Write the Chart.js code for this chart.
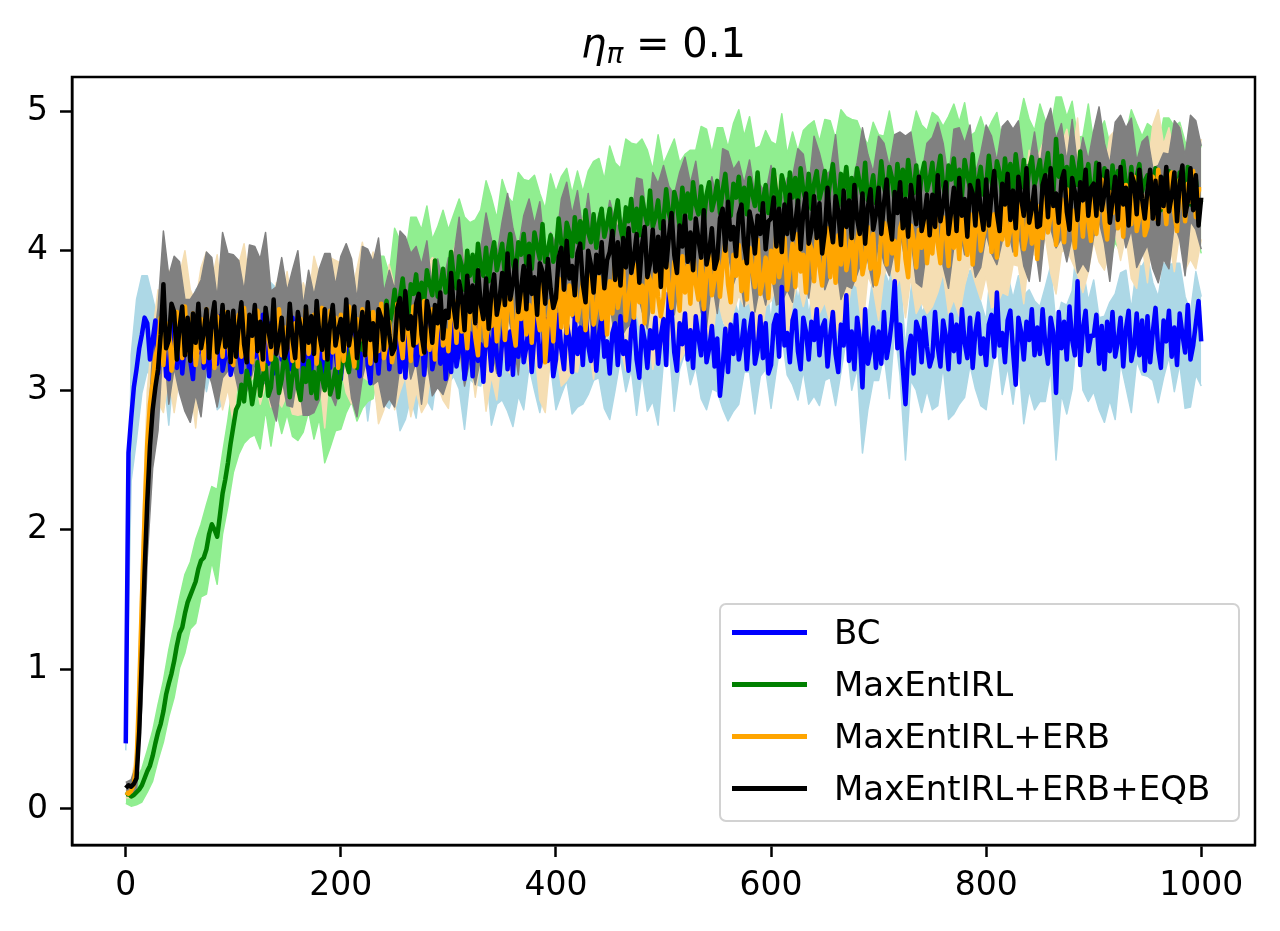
<!DOCTYPE html>
<html lang="en">
<head>
  <meta charset="UTF-8" />
  <title>eta_pi = 0.1</title>
  <script src="https://cdn.jsdelivr.net/npm/chart.js"></script>
  <style>
    * { box-sizing: border-box; margin: 0; padding: 0; }
    body { background: #fff; width: 1280px; height: 931px; overflow: hidden; position: relative; font-family: "DejaVu Sans", sans-serif; color: #000; }
    #chart { position: absolute; left: 0; top: 0; }
    .title { position: absolute; top: 23px; left: 72px; width: 1183px; text-align: center; font-size: 40px; line-height: 40px; white-space: nowrap; }
    .title sub { font-size: 28px; line-height: 0; vertical-align: -0.22em; }
    .legend { position: absolute; left: 719px; top: 603px; width: 521px; height: 219px; border: 2px solid #d2d2d2; border-radius: 7px; background: rgba(255,255,255,0.8); }
    .legend-item { position: absolute; left: 0; width: 100%; height: 52px; }
    .legend-item .swatch { position: absolute; left: 11px; top: 24px; width: 75px; height: 5px; }
    .legend-item .label { position: absolute; left: 113px; top: 0; font-size: 34px; line-height: 52px; white-space: nowrap; }
  </style>
</head>
<body>

  <canvas id="chart" width="1280" height="931"></canvas>

  <div class="title"><i>η</i><sub><i>π</i></sub> = 0.1</div>

  <!-- Legend -->
  <div class="legend">
    <div class="legend-item" style="top:1px"><span class="swatch" style="background:#0000ff"></span><span class="label">BC</span></div>
    <div class="legend-item" style="top:53px"><span class="swatch" style="background:#008000"></span><span class="label">MaxEntIRL</span></div>
    <div class="legend-item" style="top:105px"><span class="swatch" style="background:#ffa500"></span><span class="label">MaxEntIRL+ERB</span></div>
    <div class="legend-item" style="top:157px"><span class="swatch" style="background:#000000"></span><span class="label">MaxEntIRL+ERB+EQB</span></div>
  </div>

  <script>
    // means: one value every 2.5 iterations; std bands: one value every 5 (x = 0 .. 1000)
    const MEAN_STEP = 2.5;
    const BAND_STEP = 5;
    const xTicks = [0, 200, 400, 600, 800, 1000];
    const yTicks = [0, 1, 2, 3, 4, 5];

    // BC
    const bcMean = [
      0.47, 2.55, 2.80, 3.02, 3.15, 3.30, 3.40, 3.52, 3.48, 3.22, 3.36, 3.50, 3.12, 3.48, 3.42, 3.10, 3.08, 3.52, 3.46, 3.16,
      3.45, 3.12, 3.34, 3.51, 3.21, 3.08, 3.42, 3.27, 3.49, 3.16, 3.37, 3.10, 3.47, 3.32, 3.19, 3.53, 3.14, 3.24, 3.40, 3.11,
      3.20, 3.52, 3.27, 3.13, 3.46, 3.35, 3.11, 3.50, 3.24, 3.43, 3.16, 3.54, 3.30, 3.19, 3.48, 3.12, 3.38, 3.51, 3.22, 3.33,
      3.38, 3.15, 3.52, 3.19, 3.31, 3.47, 3.10, 3.26, 3.43, 3.12, 3.50, 3.23, 3.35, 3.08, 3.45, 3.39, 3.16, 3.48, 3.27, 3.13,
      3.08, 3.37, 3.44, 3.14, 3.49, 3.22, 3.31, 3.10, 3.40, 3.47, 3.18, 3.05, 3.42, 3.32, 3.12, 3.39, 3.26, 3.48, 3.15, 3.35,
      3.33, 3.48, 3.13, 3.40, 3.09, 3.43, 3.22, 3.50, 3.18, 3.29, 3.46, 3.11, 3.38, 3.51, 3.15, 3.25, 3.49, 3.19, 3.44, 3.08,
      3.36, 3.13, 3.50, 3.17, 3.29, 3.45, 3.08, 3.24, 3.41, 3.10, 3.48, 3.21, 3.33, 3.06, 3.43, 3.37, 3.14, 3.46, 3.25, 3.11,
      3.35, 3.50, 3.15, 3.42, 3.11, 3.45, 3.24, 3.52, 3.20, 3.31, 3.48, 3.13, 3.40, 3.53, 3.17, 3.27, 3.51, 3.21, 3.46, 3.10,
      3.22, 3.54, 3.29, 3.15, 3.48, 3.37, 3.13, 3.52, 3.26, 3.45, 3.18, 3.56, 3.32, 3.21, 3.50, 3.14, 3.40, 3.53, 3.24, 3.35,
      3.12, 3.41, 3.48, 3.18, 3.53, 3.26, 3.35, 3.14, 3.44, 3.51, 3.22, 3.09, 3.46, 3.36, 3.16, 3.43, 3.30, 3.52, 3.19, 3.39,
      3.51, 3.18, 3.70, 3.57, 3.27, 3.14, 3.48, 3.33, 3.55, 3.22, 3.43, 3.16, 3.53, 3.38, 3.25, 3.59, 3.20, 3.30, 3.46, 3.17,
      3.37, 2.96, 3.17, 3.44, 3.13, 3.47, 3.26, 3.54, 3.22, 3.33, 3.50, 3.15, 3.42, 3.55, 3.19, 3.29, 3.53, 3.23, 3.48, 3.12,
      3.18, 3.47, 3.54, 3.24, 3.74, 3.32, 3.41, 3.20, 3.50, 3.57, 3.28, 3.15, 3.52, 3.42, 3.22, 3.49, 3.36, 3.58, 3.25, 3.45,
      3.50, 3.17, 3.39, 3.56, 3.26, 3.13, 3.47, 3.32, 3.68, 3.21, 3.42, 3.15, 3.52, 3.37, 3.02, 3.58, 3.19, 3.29, 3.45, 3.16,
      3.42, 3.19, 3.56, 3.23, 3.35, 3.51, 3.78, 3.30, 3.47, 3.16, 2.90, 3.27, 3.39, 3.12, 3.49, 3.43, 3.20, 3.52, 3.31, 3.17,
      3.24, 3.56, 3.31, 3.17, 3.50, 3.39, 3.15, 3.54, 3.28, 3.47, 3.20, 3.58, 3.34, 3.23, 3.52, 3.16, 3.42, 3.55, 3.26, 3.37,
      3.18, 3.47, 3.54, 3.24, 3.70, 3.32, 3.41, 3.20, 3.50, 3.57, 3.28, 3.04, 3.52, 3.42, 3.22, 3.49, 3.36, 3.58, 3.25, 3.45,
      3.26, 3.58, 3.33, 3.19, 3.52, 3.41, 2.98, 3.56, 3.30, 3.49, 3.22, 3.60, 3.36, 3.25, 3.78, 3.18, 3.44, 3.57, 3.28, 3.39,
      3.39, 3.54, 3.19, 3.46, 3.15, 3.49, 3.28, 3.56, 3.24, 3.35, 3.52, 3.17, 3.44, 3.57, 3.21, 3.31, 3.55, 3.25, 3.50, 3.14,
      3.53, 3.20, 3.42, 3.59, 3.29, 3.16, 3.50, 3.35, 3.57, 3.24, 3.45, 3.18, 3.55, 3.40, 3.27, 3.61, 3.22, 3.32, 3.48, 3.64,
      3.35
    ];
    const bcStd = [
      0.05, 0.45, 0.50, 0.42, 0.34, 0.30, 0.38, 0.28, 0.33, 0.26,
      0.34, 0.25, 0.36, 0.30, 0.27, 0.38, 0.29, 0.33, 0.24, 0.35,
      0.30, 0.40, 0.27, 0.34, 0.31, 0.25, 0.37, 0.29, 0.35, 0.28,
      0.33, 0.26, 0.39, 0.30, 0.28, 0.36, 0.32, 0.27, 0.41, 0.30,
      0.34, 0.29, 0.38, 0.31, 0.26, 0.40, 0.33, 0.30, 0.36, 0.28,
      0.35, 0.42, 0.30, 0.27, 0.38, 0.32, 0.45, 0.29, 0.34, 0.37,
      0.31, 0.40, 0.28, 0.36, 0.33, 0.44, 0.30, 0.27, 0.39, 0.35,
      0.42, 0.30, 0.37, 0.28, 0.34, 0.31, 0.40, 0.33, 0.46, 0.29,
      0.36, 0.32, 0.41, 0.30, 0.38, 0.28, 0.35, 0.43, 0.31, 0.37,
      0.33, 0.48, 0.30, 0.36, 0.29, 0.40, 0.34, 0.31, 0.38, 0.44,
      0.30, 0.35, 0.42, 0.33, 0.28, 0.39, 0.36, 0.31, 0.34, 0.45,
      0.38, 0.30, 0.35, 0.41, 0.32, 0.37, 0.29, 0.36, 0.43, 0.33,
      0.31, 0.39, 0.34, 0.30, 0.46, 0.35, 0.38, 0.32, 0.40, 0.36,
      0.43, 0.30, 0.37, 0.34, 0.31, 0.42, 0.36, 0.47, 0.33, 0.38,
      0.35, 0.30, 0.41, 0.34, 0.37, 0.40, 0.32, 0.49, 0.36, 0.31,
      0.38, 0.42, 0.33, 0.36, 0.45, 0.30, 0.39, 0.34, 0.41, 0.37,
      0.32, 0.40, 0.35, 0.44, 0.33, 0.38, 0.30, 0.46, 0.36, 0.39,
      0.34, 0.41, 0.37, 0.48, 0.33, 0.39, 0.35, 0.31, 0.44, 0.36,
      0.40, 0.33, 0.38, 0.35, 0.45, 0.32, 0.42, 0.37, 0.34, 0.39,
      0.43, 0.35, 0.38, 0.41, 0.33, 0.46, 0.36, 0.40, 0.34, 0.37,
      0.32
    ];

    // MaxEntIRL
    const irlMean = [
      0.10, 0.11, 0.09, 0.10, 0.12, 0.14, 0.17, 0.22, 0.27, 0.31, 0.38, 0.47, 0.55, 0.61, 0.70, 0.82, 0.90, 0.97, 1.06, 1.17,
      1.26, 1.30, 1.40, 1.48, 1.53, 1.58, 1.63, 1.72, 1.78, 1.80, 1.86, 1.97, 2.04, 2.00, 1.95, 2.10, 2.26, 2.36, 2.48, 2.62,
      2.74, 2.86, 2.90, 3.04, 2.92, 3.14, 3.06, 2.90, 3.02, 3.20, 2.96, 3.10, 3.18, 2.96, 3.02, 3.24, 3.22, 2.98, 3.08, 3.26,
      3.18, 2.95, 3.11, 3.23, 3.02, 2.93, 3.16, 3.06, 3.21, 2.98, 3.13, 2.94, 3.20, 3.09, 3.00, 3.24, 2.97, 3.04, 3.15, 2.95,
      3.12, 3.36, 3.20, 3.13, 3.37, 3.31, 3.16, 3.45, 3.29, 3.45, 3.27, 3.55, 3.41, 3.35, 3.57, 3.34, 3.53, 3.64, 3.46, 3.56,
      3.72, 3.50, 3.67, 3.80, 3.60, 3.52, 3.76, 3.69, 3.83, 3.61, 3.77, 3.64, 3.86, 3.76, 3.68, 3.93, 3.67, 3.75, 3.87, 3.70,
      3.76, 3.99, 3.81, 3.73, 3.96, 3.89, 3.72, 4.00, 3.82, 3.97, 3.78, 4.05, 3.89, 3.82, 4.02, 3.78, 3.96, 4.06, 3.86, 3.95,
      4.05, 3.83, 3.99, 4.12, 3.91, 3.83, 4.06, 3.97, 4.12, 3.90, 4.05, 3.87, 4.13, 4.03, 3.94, 4.19, 3.92, 4.00, 4.11, 3.92,
      4.00, 4.23, 4.05, 3.97, 4.20, 4.13, 3.96, 4.24, 4.06, 4.21, 4.02, 4.29, 4.13, 4.06, 4.26, 4.02, 4.20, 4.30, 4.10, 4.19,
      4.30, 4.07, 4.24, 4.36, 4.16, 4.07, 4.31, 4.21, 4.37, 4.14, 4.30, 4.11, 4.38, 4.27, 4.19, 4.43, 4.17, 4.24, 4.36, 4.16,
      4.22, 4.44, 4.27, 4.18, 4.42, 4.34, 4.17, 4.45, 4.27, 4.41, 4.23, 4.49, 4.33, 4.26, 4.46, 4.21, 4.40, 4.49, 4.29, 4.37,
      4.50, 4.27, 4.43, 4.55, 4.34, 4.25, 4.48, 4.38, 4.53, 4.30, 4.45, 4.26, 4.52, 4.41, 4.32, 4.56, 4.29, 4.36, 4.47, 4.27,
      4.36, 4.58, 4.40, 4.31, 4.54, 4.46, 4.29, 4.56, 4.38, 4.52, 4.33, 4.59, 4.43, 4.35, 4.55, 4.30, 4.48, 4.57, 4.37, 4.45,
      4.57, 4.34, 4.50, 4.62, 4.41, 4.32, 4.55, 4.45, 4.60, 4.37, 4.52, 4.33, 4.59, 4.48, 4.39, 4.63, 4.36, 4.43, 4.54, 4.34,
      4.42, 4.64, 4.46, 4.37, 4.60, 4.52, 4.35, 4.62, 4.44, 4.58, 4.39, 4.65, 4.49, 4.41, 4.61, 4.36, 4.54, 4.63, 4.43, 4.51,
      4.63, 4.40, 4.56, 4.68, 4.47, 4.38, 4.61, 4.51, 4.66, 4.43, 4.58, 4.39, 4.65, 4.54, 4.45, 4.69, 4.42, 4.49, 4.60, 4.40,
      4.46, 4.68, 4.50, 4.41, 4.64, 4.56, 4.39, 4.66, 4.48, 4.62, 4.43, 4.69, 4.53, 4.45, 4.65, 4.40, 4.58, 4.67, 4.47, 4.55,
      4.65, 4.42, 4.58, 4.70, 4.49, 4.40, 4.80, 4.53, 4.68, 4.45, 4.60, 4.41, 4.67, 4.56, 4.47, 4.71, 4.44, 4.51, 4.62, 4.42,
      4.41, 4.63, 4.45, 4.36, 4.59, 4.51, 4.34, 4.61, 4.43, 4.57, 4.38, 4.64, 4.48, 4.40, 4.60, 4.35, 4.53, 4.62, 4.42, 4.50,
      4.54, 4.31, 4.47, 4.59, 4.38, 4.29, 4.52, 4.42, 4.57, 4.34, 4.49, 4.30, 4.56, 4.45, 4.36, 4.60, 4.33, 4.40, 4.51, 4.31,
      4.36
    ];
    const irlStd = [
      0.06, 0.07, 0.09, 0.12, 0.15, 0.18, 0.20, 0.22, 0.24, 0.26,
      0.25, 0.28, 0.24, 0.30, 0.26, 0.32, 0.27, 0.34, 0.29, 0.31,
      0.33, 0.36, 0.30, 0.40, 0.34, 0.38, 0.32, 0.42, 0.36, 0.39,
      0.35, 0.44, 0.38, 0.46, 0.36, 0.48, 0.40, 0.52, 0.38, 0.44,
      0.40, 0.36, 0.45, 0.38, 0.42, 0.35, 0.47, 0.39, 0.43, 0.37,
      0.44, 0.40, 0.36, 0.48, 0.41, 0.38, 0.46, 0.40, 0.50, 0.42,
      0.39, 0.45, 0.41, 0.52, 0.38, 0.44, 0.40, 0.48, 0.42, 0.37,
      0.46, 0.40, 0.43, 0.50, 0.39, 0.45, 0.41, 0.47, 0.38, 0.44,
      0.42, 0.48, 0.39, 0.45, 0.51, 0.40, 0.44, 0.38, 0.46, 0.41,
      0.45, 0.39, 0.43, 0.49, 0.40, 0.46, 0.42, 0.53, 0.41, 0.47,
      0.40, 0.44, 0.38, 0.46, 0.42, 0.49, 0.39, 0.43, 0.47, 0.41,
      0.38, 0.45, 0.40, 0.43, 0.48, 0.37, 0.44, 0.41, 0.46, 0.39,
      0.42, 0.36, 0.44, 0.40, 0.47, 0.38, 0.43, 0.35, 0.45, 0.41,
      0.37, 0.43, 0.39, 0.46, 0.36, 0.42, 0.34, 0.44, 0.40, 0.38,
      0.41, 0.36, 0.40, 0.44, 0.37, 0.42, 0.33, 0.39, 0.36, 0.43,
      0.36, 0.40, 0.42, 0.35, 0.39, 0.34, 0.41, 0.37, 0.43, 0.36,
      0.38, 0.42, 0.35, 0.40, 0.34, 0.41, 0.37, 0.44, 0.36, 0.39,
      0.40, 0.35, 0.38, 0.30, 0.42, 0.36, 0.40, 0.34, 0.38, 0.43,
      0.36, 0.40, 0.34, 0.42, 0.37, 0.39, 0.35, 0.41, 0.38, 0.40,
      0.37, 0.41, 0.35, 0.43, 0.38, 0.40, 0.36, 0.42, 0.39, 0.37,
      0.38
    ];

    // MaxEntIRL+ERB
    const erbMean = [
      0.12, 0.11, 0.13, 0.18, 0.32, 0.85, 1.50, 2.10, 2.62, 2.90, 3.05, 3.24, 3.32, 3.52, 3.18, 3.46, 3.48, 3.14, 3.26, 3.56,
      3.46, 3.23, 3.60, 3.27, 3.39, 3.55, 3.18, 3.34, 3.51, 3.20, 3.58, 3.31, 3.43, 3.16, 3.53, 3.47, 3.24, 3.56, 3.35, 3.21,
      3.18, 3.47, 3.54, 3.24, 3.59, 3.32, 3.41, 3.20, 3.50, 3.57, 3.28, 3.15, 3.52, 3.42, 3.22, 3.49, 3.36, 3.58, 3.25, 3.45,
      3.41, 3.56, 3.21, 3.48, 3.17, 3.51, 3.30, 3.58, 3.26, 3.37, 3.54, 3.19, 3.46, 3.59, 3.23, 3.33, 3.57, 3.27, 3.52, 3.16,
      3.54, 3.21, 3.43, 3.60, 3.30, 3.17, 3.51, 3.36, 3.58, 3.25, 3.46, 3.19, 3.56, 3.41, 3.28, 3.62, 3.23, 3.33, 3.49, 3.20,
      3.30, 3.62, 3.37, 3.23, 3.56, 3.45, 3.21, 3.60, 3.34, 3.53, 3.26, 3.64, 3.40, 3.29, 3.58, 3.22, 3.48, 3.61, 3.32, 3.43,
      3.28, 3.57, 3.64, 3.34, 3.69, 3.42, 3.51, 3.30, 3.60, 3.67, 3.38, 3.25, 3.62, 3.52, 3.32, 3.59, 3.46, 3.68, 3.35, 3.55,
      3.69, 3.36, 3.58, 3.75, 3.45, 3.32, 3.66, 3.51, 3.73, 3.40, 3.61, 3.34, 3.71, 3.56, 3.43, 3.77, 3.20, 3.48, 3.64, 3.35,
      3.65, 3.80, 3.45, 3.72, 3.41, 3.75, 3.54, 3.82, 3.50, 3.61, 3.78, 3.43, 3.70, 3.83, 3.47, 3.57, 3.81, 3.51, 3.76, 3.40,
      3.78, 3.55, 3.92, 3.59, 3.71, 3.87, 3.50, 3.66, 3.83, 3.52, 3.90, 3.63, 3.75, 3.48, 3.85, 3.79, 3.56, 3.88, 3.67, 3.53,
      3.66, 3.98, 3.73, 3.59, 3.92, 3.81, 3.57, 3.96, 3.70, 3.89, 3.62, 4.00, 3.76, 3.65, 3.94, 3.58, 3.84, 3.97, 3.68, 3.79,
      4.00, 3.67, 3.89, 4.06, 3.76, 3.63, 3.97, 3.82, 4.04, 3.71, 3.92, 3.65, 4.02, 3.87, 3.74, 4.08, 3.69, 3.79, 3.95, 3.66,
      4.00, 3.77, 4.14, 3.81, 3.93, 4.09, 3.72, 3.88, 4.05, 3.74, 4.12, 3.85, 3.97, 3.70, 4.07, 4.01, 3.78, 4.10, 3.89, 3.75,
      4.01, 4.16, 3.81, 4.08, 3.77, 4.11, 3.90, 4.18, 3.86, 3.97, 4.14, 3.79, 4.06, 4.19, 3.83, 3.93, 4.17, 3.87, 4.12, 3.76,
      3.84, 4.13, 4.20, 3.90, 4.25, 3.98, 4.07, 3.86, 4.16, 4.23, 3.94, 3.81, 4.18, 4.08, 3.88, 4.15, 4.02, 4.24, 3.91, 4.11,
      3.98, 4.30, 4.05, 3.91, 4.24, 4.13, 3.89, 4.28, 4.02, 4.21, 3.94, 4.32, 4.08, 3.97, 4.26, 3.90, 4.16, 4.29, 4.00, 4.11,
      4.19, 4.34, 3.99, 4.26, 3.95, 4.29, 4.08, 4.36, 4.04, 4.15, 4.32, 3.97, 4.24, 4.37, 4.01, 4.11, 4.35, 4.05, 4.30, 3.94,
      4.32, 4.09, 4.46, 4.13, 4.25, 4.41, 4.04, 4.20, 4.37, 4.06, 4.44, 4.17, 4.29, 4.02, 4.39, 4.33, 4.10, 4.42, 4.21, 4.07,
      4.45, 4.12, 4.34, 4.51, 4.21, 4.08, 4.42, 4.27, 4.49, 4.16, 4.37, 4.10, 4.47, 4.32, 4.19, 4.53, 4.14, 4.24, 4.40, 4.11,
      4.17, 4.46, 4.53, 4.23, 4.58, 4.31, 4.40, 4.19, 4.49, 4.56, 4.27, 4.14, 4.51, 4.41, 4.21, 4.48, 4.35, 4.57, 4.24, 4.44,
      4.44
    ];
    const erbStd = [
      0.04, 0.05, 0.12, 0.35, 0.38, 0.36, 0.40, 0.34, 0.38, 0.42,
      0.36, 0.40, 0.33, 0.45, 0.37, 0.41, 0.35, 0.44, 0.38, 0.34,
      0.42, 0.36, 0.46, 0.35, 0.40, 0.38, 0.48, 0.34, 0.41, 0.37,
      0.44, 0.38, 0.35, 0.47, 0.39, 0.42, 0.36, 0.50, 0.38, 0.41,
      0.37, 0.45, 0.40, 0.36, 0.48, 0.39, 0.43, 0.52, 0.37, 0.41,
      0.44, 0.38, 0.46, 0.40, 0.35, 0.42, 0.49, 0.37, 0.44, 0.39,
      0.41, 0.36, 0.45, 0.39, 0.34, 0.43, 0.38, 0.47, 0.36, 0.42,
      0.38, 0.44, 0.35, 0.41, 0.37, 0.46, 0.40, 0.50, 0.36, 0.39,
      0.36, 0.42, 0.34, 0.40, 0.37, 0.45, 0.35, 0.39, 0.33, 0.43,
      0.37, 0.34, 0.40, 0.36, 0.44, 0.33, 0.38, 0.35, 0.41, 0.36,
      0.34, 0.39, 0.33, 0.37, 0.42, 0.35, 0.38, 0.32, 0.40, 0.36,
      0.33, 0.38, 0.35, 0.41, 0.36, 0.32, 0.39, 0.34, 0.37, 0.35,
      0.36, 0.40, 0.33, 0.38, 0.42, 0.35, 0.37, 0.31, 0.39, 0.34,
      0.38, 0.33, 0.36, 0.40, 0.34, 0.37, 0.32, 0.41, 0.35, 0.39,
      0.34, 0.38, 0.32, 0.36, 0.35, 0.42, 0.37, 0.33, 0.39, 0.36,
      0.38, 0.35, 0.40, 0.34, 0.37, 0.41, 0.33, 0.36, 0.39, 0.35,
      0.37, 0.40, 0.34, 0.38, 0.36, 0.42, 0.35, 0.39, 0.37, 0.33,
      0.39, 0.36, 0.41, 0.35, 0.38, 0.43, 0.37, 0.56, 0.40, 0.36,
      0.38, 0.42, 0.35, 0.40, 0.37, 0.44, 0.36, 0.39, 0.41, 0.35,
      0.40, 0.37, 0.43, 0.36, 0.39, 0.42, 0.38, 0.35, 0.41, 0.37,
      0.36
    ];

    // MaxEntIRL+ERB+EQB
    const eqbMean = [
      0.15, 0.17, 0.16, 0.18, 0.22, 0.55, 1.10, 1.70, 2.20, 2.60, 2.86, 3.02, 3.15, 3.40, 3.76, 3.30, 3.36, 3.62, 3.56, 3.22,
      3.45, 3.60, 3.25, 3.52, 3.21, 3.55, 3.34, 3.62, 3.30, 3.41, 3.58, 3.23, 3.50, 3.63, 3.27, 3.37, 3.61, 3.31, 3.56, 3.20,
      3.57, 3.24, 3.46, 3.63, 3.33, 3.20, 3.54, 3.39, 3.61, 3.28, 3.49, 3.22, 3.59, 3.44, 3.31, 3.65, 3.26, 3.36, 3.52, 3.23,
      3.30, 3.62, 3.37, 3.23, 3.56, 3.45, 3.21, 3.60, 3.34, 3.53, 3.26, 3.64, 3.40, 3.29, 3.58, 3.22, 3.48, 3.61, 3.32, 3.43,
      3.51, 3.28, 3.65, 3.32, 3.44, 3.60, 3.23, 3.39, 3.56, 3.25, 3.63, 3.36, 3.48, 3.21, 3.58, 3.52, 3.29, 3.61, 3.40, 3.26,
      3.30, 3.59, 3.66, 3.36, 3.71, 3.44, 3.53, 3.32, 3.62, 3.69, 3.40, 3.27, 3.64, 3.54, 3.34, 3.61, 3.48, 3.70, 3.37, 3.57,
      3.52, 3.84, 3.59, 3.45, 3.78, 3.67, 3.43, 3.82, 3.56, 3.75, 3.48, 3.86, 3.62, 3.51, 3.80, 3.44, 3.70, 3.83, 3.54, 3.65,
      3.84, 3.61, 3.98, 3.65, 3.77, 3.93, 3.56, 3.72, 3.89, 3.58, 3.96, 3.69, 3.81, 3.54, 3.91, 3.85, 3.62, 3.94, 3.73, 3.59,
      3.66, 3.95, 4.02, 3.72, 4.07, 3.80, 3.89, 3.68, 3.98, 4.05, 3.76, 3.63, 4.00, 3.90, 3.70, 3.97, 3.84, 4.06, 3.73, 3.93,
      3.99, 4.14, 3.79, 4.06, 3.75, 4.09, 3.88, 4.16, 3.84, 3.95, 4.12, 3.77, 4.04, 4.17, 3.81, 3.91, 4.15, 3.85, 4.10, 3.74,
      4.21, 3.88, 4.10, 4.27, 3.97, 3.84, 4.18, 4.03, 4.25, 3.92, 4.13, 3.86, 4.23, 4.08, 3.95, 4.29, 3.90, 4.00, 4.16, 3.87,
      3.94, 4.23, 4.30, 4.00, 4.35, 4.08, 4.17, 3.96, 4.26, 4.33, 4.04, 3.91, 4.28, 4.18, 3.98, 4.25, 4.12, 4.34, 4.01, 4.21,
      4.23, 4.38, 4.03, 4.30, 3.99, 4.33, 4.12, 4.40, 4.08, 4.19, 4.36, 4.01, 4.28, 4.41, 4.05, 4.15, 4.39, 4.09, 4.34, 3.98,
      4.13, 4.45, 4.20, 4.06, 4.39, 4.28, 4.04, 4.43, 4.17, 4.36, 4.09, 4.47, 4.23, 4.12, 4.41, 4.05, 4.31, 4.44, 4.15, 4.26,
      4.45, 4.12, 4.34, 4.51, 4.21, 4.08, 4.42, 4.27, 4.49, 4.16, 4.37, 4.10, 4.47, 4.32, 4.19, 4.53, 4.14, 4.24, 4.40, 4.11,
      4.40, 4.17, 4.54, 4.21, 4.33, 4.49, 4.12, 4.28, 4.45, 4.14, 4.52, 4.25, 4.37, 4.10, 4.47, 4.41, 4.18, 4.50, 4.29, 4.15,
      4.51, 4.18, 4.40, 4.57, 4.27, 4.14, 4.48, 4.33, 4.55, 4.22, 4.43, 4.16, 4.53, 4.38, 4.25, 4.59, 4.20, 4.30, 4.46, 4.17,
      4.18, 4.47, 4.54, 4.24, 4.59, 4.32, 4.41, 4.20, 4.50, 4.57, 4.28, 4.15, 4.52, 4.42, 4.22, 4.49, 4.36, 4.58, 4.25, 4.45,
      4.48, 4.25, 4.62, 4.29, 4.41, 4.57, 4.20, 4.36, 4.53, 4.22, 4.60, 4.33, 4.45, 4.18, 4.55, 4.49, 4.26, 4.58, 4.37, 4.23,
      4.43, 4.58, 4.23, 4.50, 4.19, 4.53, 4.32, 4.60, 4.28, 4.39, 4.56, 4.21, 4.48, 4.61, 4.25, 4.35, 4.59, 4.29, 4.54, 4.18,
      4.38
    ];
    const eqbStd = [
      0.04, 0.05, 0.10, 0.35, 0.40, 0.42, 0.44, 0.38, 0.46, 0.40,
      0.47, 0.40, 0.44, 0.37, 0.49, 0.41, 0.45, 0.39, 0.52, 0.42,
      0.40, 0.47, 0.38, 0.50, 0.42, 0.45, 0.54, 0.40, 0.48, 0.43,
      0.41, 0.49, 0.44, 0.39, 0.52, 0.42, 0.47, 0.40, 0.50, 0.43,
      0.45, 0.40, 0.50, 0.42, 0.47, 0.38, 0.44, 0.51, 0.41, 0.46,
      0.42, 0.48, 0.39, 0.45, 0.41, 0.50, 0.43, 0.38, 0.46, 0.40,
      0.43, 0.37, 0.46, 0.40, 0.35, 0.44, 0.39, 0.47, 0.38, 0.42,
      0.37, 0.43, 0.39, 0.45, 0.36, 0.41, 0.38, 0.44, 0.35, 0.40,
      0.39, 0.35, 0.42, 0.37, 0.45, 0.38, 0.41, 0.36, 0.43, 0.39,
      0.37, 0.42, 0.38, 0.44, 0.36, 0.40, 0.47, 0.37, 0.41, 0.38,
      0.40, 0.36, 0.43, 0.38, 0.42, 0.35, 0.41, 0.39, 0.45, 0.37,
      0.39, 0.43, 0.36, 0.41, 0.38, 0.44, 0.37, 0.42, 0.35, 0.40,
      0.38, 0.42, 0.36, 0.40, 0.45, 0.37, 0.41, 0.39, 0.43, 0.36,
      0.41, 0.37, 0.44, 0.39, 0.42, 0.36, 0.40, 0.47, 0.38, 0.41,
      0.37, 0.43, 0.39, 0.41, 0.36, 0.45, 0.38, 0.42, 0.40, 0.37,
      0.41, 0.38, 0.44, 0.39, 0.42, 0.36, 0.40, 0.43, 0.37, 0.41,
      0.39, 0.42, 0.37, 0.41, 0.38, 0.44, 0.40, 0.36, 0.42, 0.39,
      0.40, 0.37, 0.43, 0.39, 0.41, 0.36, 0.42, 0.38, 0.45, 0.40,
      0.38, 0.41, 0.36, 0.42, 0.39, 0.37, 0.43, 0.40, 0.38, 0.41,
      0.39, 0.36, 0.42, 0.38, 0.41, 0.37, 0.40, 0.43, 0.38, 0.39,
      0.37
    ];

    const meanPts = (arr) => arr.map((v, i) => ({ x: i * MEAN_STEP, y: v }));
    // band edge = mean at the band's x (every 2nd mean sample) +/- std
    const edgePts = (mean, std, sign) => std.map((s, i) => ({ x: i * BAND_STEP, y: mean[i * BAND_STEP / MEAN_STEP] + sign * s }));

    const band = (mean, std, color, order) => [
      { data: edgePts(mean, std, -1), borderColor: color, borderWidth: 1.5, fill: false, order },
      { data: edgePts(mean, std, 1), borderColor: color, borderWidth: 1.5, backgroundColor: color, fill: '-1', order }
    ];
    const line = (mean, color, order) => ({ data: meanPts(mean), borderColor: color, borderWidth: 4.5, fill: false, order });

    const datasets = [
      ...band(bcMean, bcStd, '#add8e6', 8),
      ...band(irlMean, irlStd, '#90ee90', 7),
      ...band(erbMean, erbStd, '#f5deb3', 6),
      ...band(eqbMean, eqbStd, '#808080', 5),
      line(bcMean, '#0000ff', 4),
      line(irlMean, '#008000', 3),
      line(erbMean, '#ffa500', 2),
      line(eqbMean, '#000000', 1)
    ];

    // matplotlib style closed frame
    const frame = {
      id: 'frame',
      afterDraw(chart) {
        const { ctx, chartArea: a } = chart;
        ctx.save();
        ctx.strokeStyle = '#000';
        ctx.lineWidth = 2.5;
        ctx.strokeRect(a.left, a.top, a.right - a.left, a.bottom - a.top);
        ctx.restore();
      }
    };

    const tickFont = { family: 'DejaVu Sans', size: 33 };
    const axisGrid = { display: true, drawOnChartArea: false, drawTicks: true, tickLength: 12, tickWidth: 2.5, tickColor: '#000' };

    new Chart(document.getElementById('chart'), {
      type: 'line',
      data: { datasets },
      options: {
        responsive: false,
        animation: false,
        devicePixelRatio: 1,
        layout: { padding: { top: 77, right: 25, left: 0, bottom: 0 } },
        elements: {
          point: { radius: 0 },
          line: { tension: 0, borderJoinStyle: 'round' }
        },
        plugins: { legend: { display: false }, tooltip: { enabled: false } },
        scales: {
          x: {
            type: 'linear', min: -50, max: 1050,
            afterBuildTicks: (s) => { s.ticks = xTicks.map(v => ({ value: v })); },
            afterFit: (s) => { s.height = 86; },
            grid: axisGrid,
            border: { display: true, color: '#000', width: 2.5 },
            ticks: { font: tickFont, color: '#000', padding: 10, maxRotation: 0, autoSkip: false, callback: v => String(v) }
          },
          y: {
            type: 'linear', min: -0.258, max: 5.244,
            afterBuildTicks: (s) => { s.ticks = yTicks.map(v => ({ value: v })); },
            afterFit: (s) => { s.width = 72; },
            grid: axisGrid,
            border: { display: true, color: '#000', width: 2.5 },
            ticks: { font: tickFont, color: '#000', padding: 12, autoSkip: false, callback: v => String(v) }
          }
        }
      },
      plugins: [frame]
    });
  </script>
</body>
</html>
